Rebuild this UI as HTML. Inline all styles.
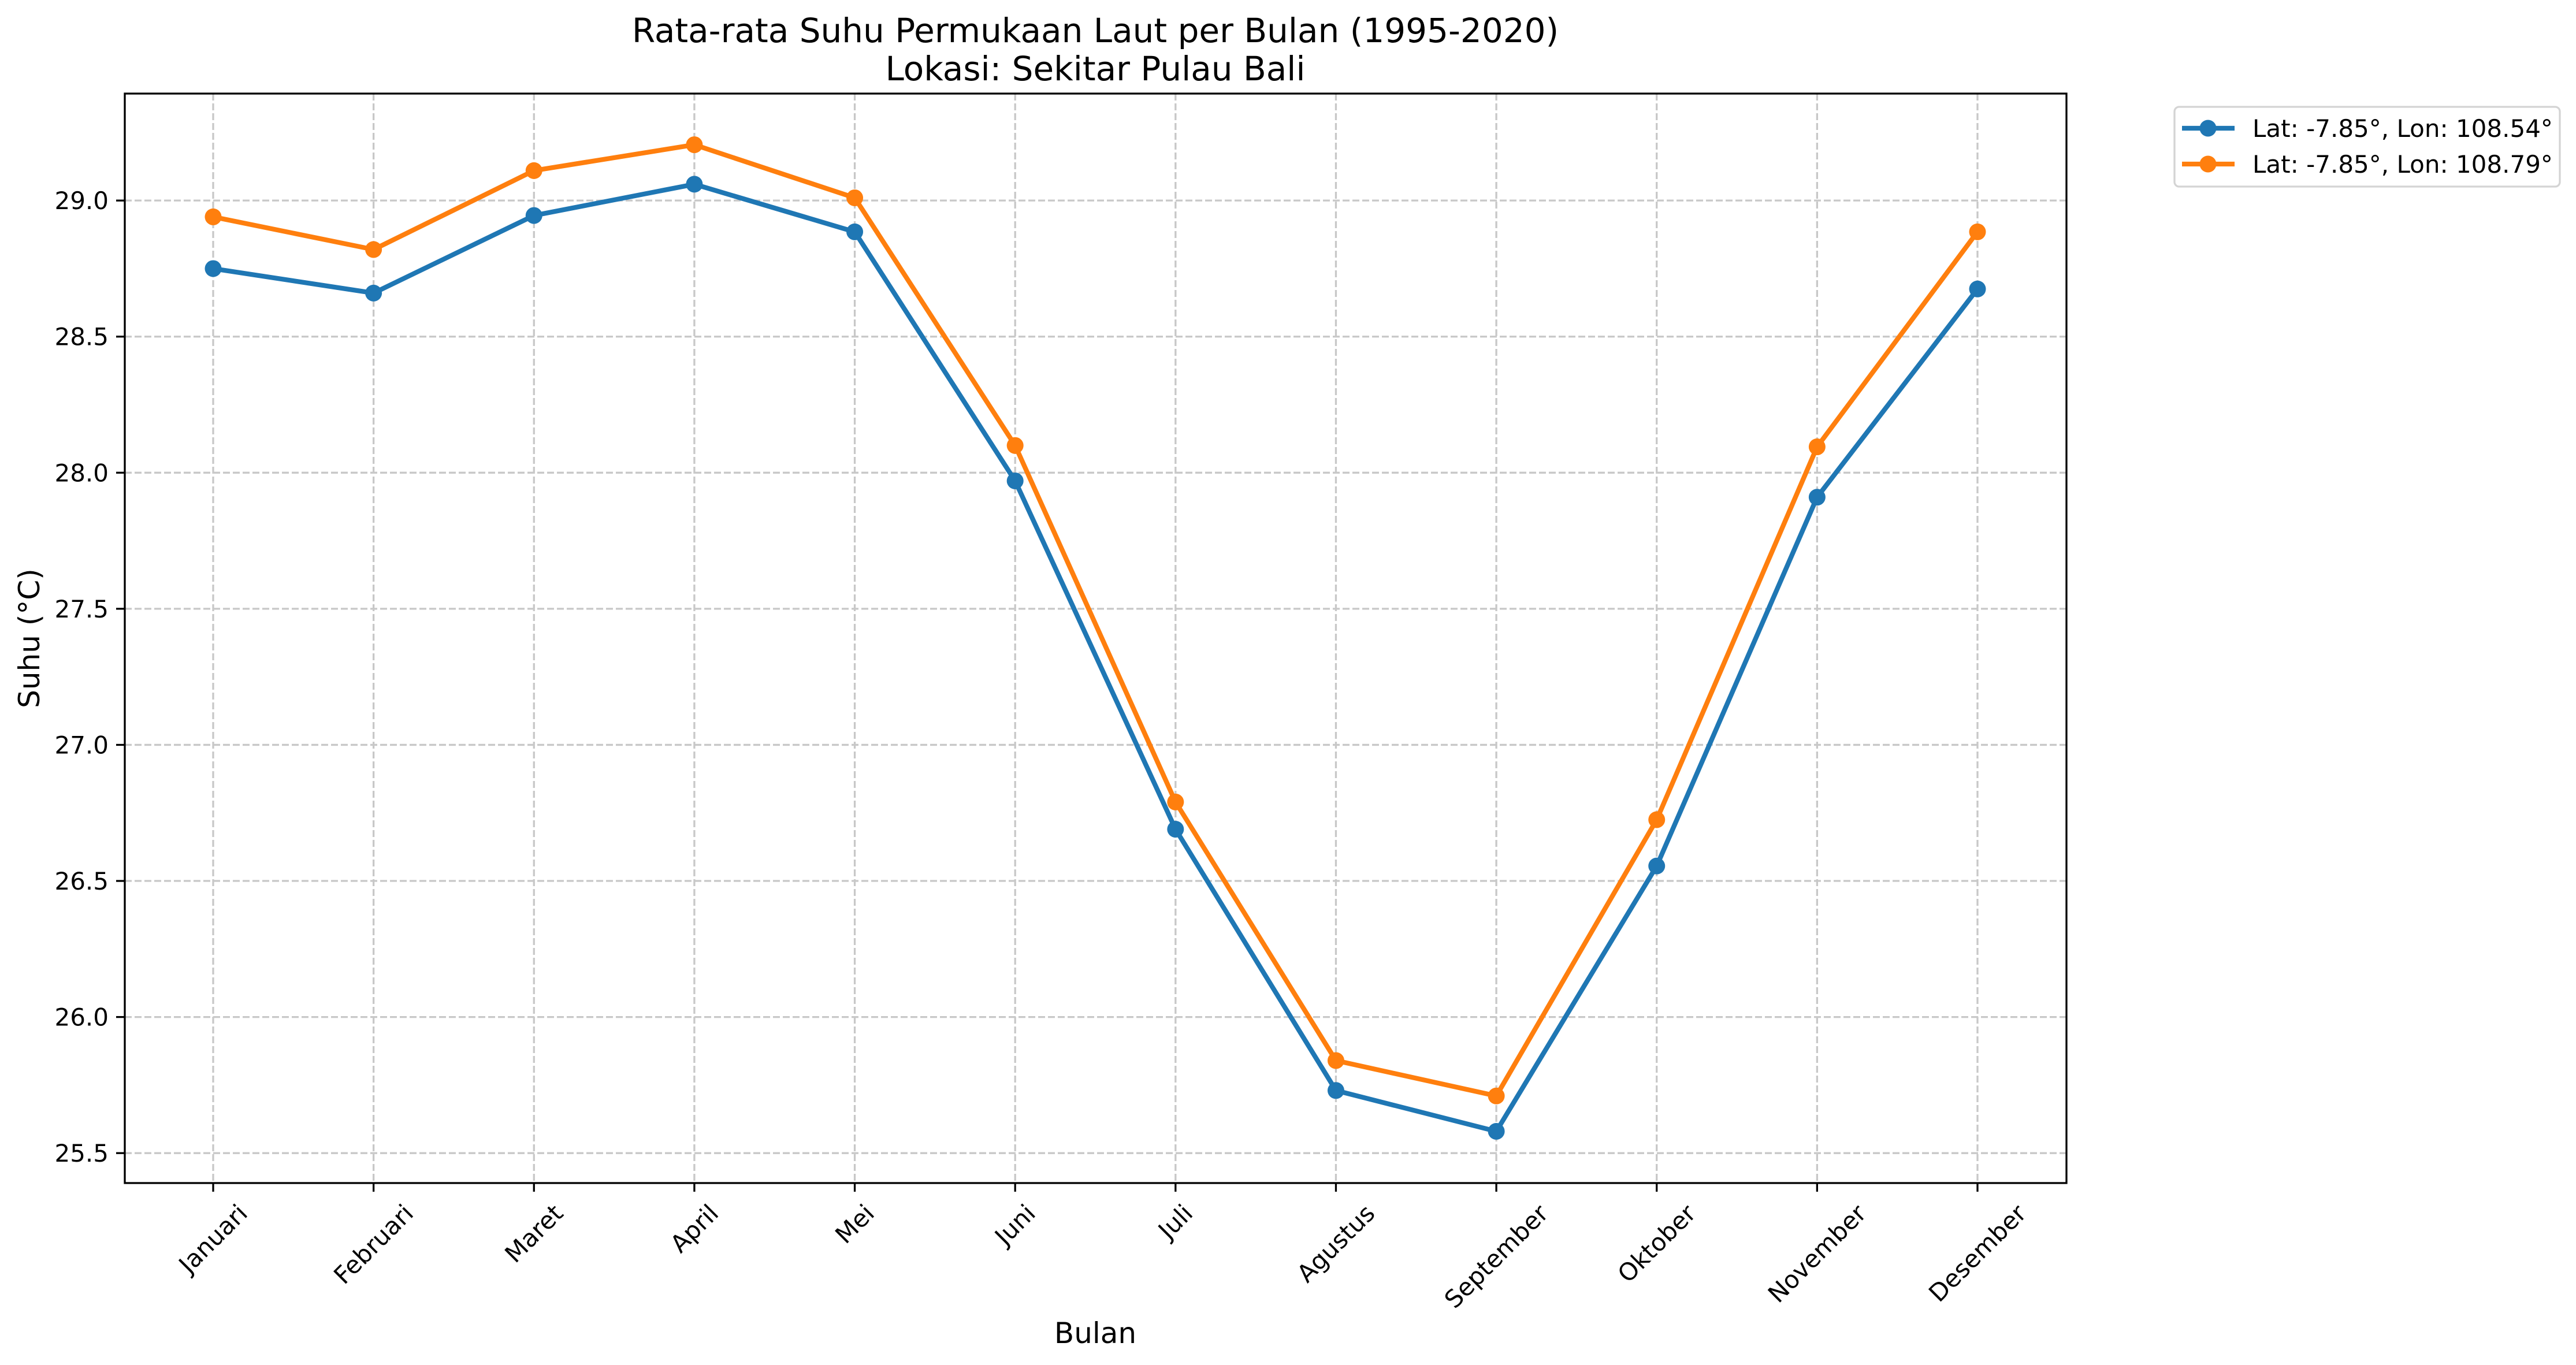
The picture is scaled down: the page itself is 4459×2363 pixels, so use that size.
<!DOCTYPE html>
<html><head><meta charset="utf-8"><style>
html,body{margin:0;padding:0;background:#fff;}
svg{display:block;font-family:"DejaVu Sans","Liberation Sans",sans-serif;}
</style></head><body>
<svg id="chart" width="4459" height="2363" viewBox="0 0 4459 2363" xmlns="http://www.w3.org/2000/svg">
<rect width="4459" height="2363" fill="#fff"/>
<text x="1896" y="73" font-size="58" text-anchor="middle">Rata-rata Suhu Permukaan Laut per Bulan (1995-2020)</text>
<text x="1896" y="139" font-size="58" text-anchor="middle">Lokasi: Sekitar Pulau Bali</text>
<g id="grid"></g>
<g id="series"></g>
<rect x="216" y="162" width="3361" height="1886" fill="none" stroke="#000" stroke-width="3.3"/>
<g id="xticks"></g>
<g id="yticks"></g>
<text x="1896" y="2325" font-size="50" text-anchor="middle">Bulan</text>
<text x="0" y="0" font-size="50" text-anchor="middle" transform="translate(68,1105) rotate(-90)">Suhu (°C)</text>
<g>
<rect x="3764" y="185" width="667" height="138" rx="8" fill="#fff" stroke="#d4d4d4" stroke-width="3.3"/>
<g>
<line x1="3777" y1="222" x2="3868" y2="222" stroke="#1f77b4" stroke-width="8.3"/>
<circle cx="3822" cy="222" r="14.5" fill="#1f77b4"/>
<text x="3899" y="237" font-size="42">Lat: -7.85°, Lon: 108.54°</text>
</g>
<g>
<line x1="3777" y1="284" x2="3868" y2="284" stroke="#ff7f0e" stroke-width="8.3"/>
<circle cx="3822" cy="284" r="14.5" fill="#ff7f0e"/>
<text x="3899" y="299" font-size="42">Lat: -7.85°, Lon: 108.79°</text>
</g>
</g>
</svg>
<script>
const months = ["Januari","Februari","Maret","April","Mei","Juni","Juli","Agustus","September","Oktober","November","Desember"];
const seriesA = [28.75,28.66,28.945,29.06,28.885,27.97,26.69,25.73,25.58,26.555,27.91,28.675];
const seriesB = [28.94,28.82,29.11,29.205,29.01,28.10,26.79,25.84,25.71,26.725,28.095,28.885];
const yTicks = [25.5,26.0,26.5,27.0,27.5,28.0,28.5,29.0];
const yTickLabels = ["25.5","26.0","26.5","27.0","27.5","28.0","28.5","29.0"];

const NS = "http://www.w3.org/2000/svg";
const L=216,R=3577,T=162,B=2048;
const yMin=25.39,yMax=29.393;
function xs(i){return 369 + i*(3423-369)/(months.length-1);}
function ys(v){return B - (v-yMin)/(yMax-yMin)*(B-T);}
function mk(tag,attrs,parent){const e=document.createElementNS(NS,tag);for(const k in attrs)e.setAttribute(k,attrs[k]);parent.appendChild(e);return e;}

const grid=document.getElementById('grid');
const xt=document.getElementById('xticks');
const yt=document.getElementById('yticks');
months.forEach((m,i)=>{
  const x=xs(i);
  const g=mk('line',{x1:x,x2:x,y1:T,y2:B,stroke:'#c8c8c8','stroke-width':3.3,'stroke-dasharray':'12 5'},grid);
  
  
  const t=mk('line',{x1:x,x2:x,y1:B,y2:B+15,stroke:'#000','stroke-width':3.3},xt);
  
  
  const tx=mk('text',{'font-size':42,'text-anchor':'middle','dominant-baseline':'central'},xt);
  tx.textContent=m;
  
  
  const w=tx.getComputedTextLength();
  const cy=2078+(w+42)*0.7071/2;
  tx.setAttribute('x',x);tx.setAttribute('y',cy);
  tx.setAttribute('transform','rotate(-45 '+x+' '+cy+')');
});
yTicks.forEach((v,i)=>{
  const y=ys(v);
  const g=mk('line',{x1:L,x2:R,y1:y,y2:y,stroke:'#c8c8c8','stroke-width':3.3,'stroke-dasharray':'12 5'},grid);
  
  
  const t=mk('line',{x1:L-15,x2:L,y1:y,y2:y,stroke:'#000','stroke-width':3.3},yt);
  
  
  const tx=mk('text',{x:L-28,y:y+15,'font-size':42,'text-anchor':'end'},yt);
  tx.textContent=yTickLabels[i];
  
  
});
const sl=document.getElementById('series');
function drawSeries(vals,color,name){
  const pts=vals.map((v,i)=>xs(i)+','+ys(v)).join(' ');
  const pl=mk('polyline',{points:pts,fill:'none',stroke:color,'stroke-width':8.3,'stroke-linejoin':'round','stroke-linecap':'square'},sl);
  
  
  vals.forEach((v,i)=>{
    const c=mk('circle',{cx:xs(i),cy:ys(v),r:14.5,fill:color},sl);
    
    
  });
}
drawSeries(seriesA,'#1f77b4','series-108-54');
drawSeries(seriesB,'#ff7f0e','series-108-79');
</script>
</body></html>
